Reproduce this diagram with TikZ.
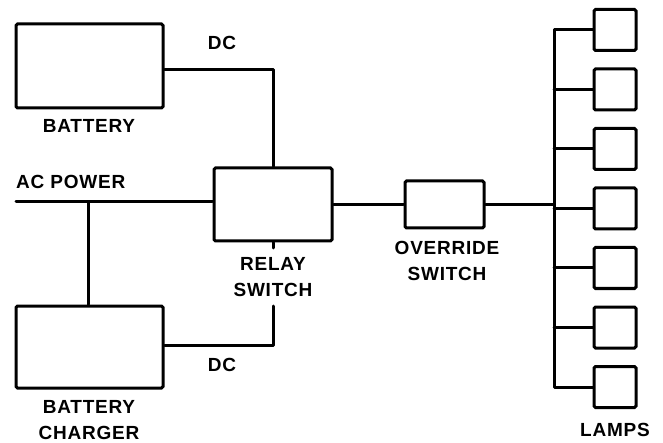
\documentclass[tikz,border=0pt]{standalone}
\usepackage{fontspec}
\setmainfont{Liberation Sans}[LetterSpace=4]
\begin{document}
\begin{tikzpicture}[x=1pt,y=-1pt,
  wire/.style={line width=3pt,line cap=round,line join=round},
  blk/.style={draw,line width=3pt,rounded corners=1.5pt,inner sep=0pt},
  lamp/.style={blk,minimum width=42pt,minimum height=41pt},
  lbl/.style={font=\bfseries\fontsize{19}{26}\selectfont,align=center,inner sep=0pt}]
\useasboundingbox (0,0) rectangle (663,443);
% blocks
\node[blk,minimum width=147pt,minimum height=84pt] (battery) at (89.5,66) {};
\node[blk,minimum width=147pt,minimum height=82pt] (charger) at (89.5,347) {};
\node[blk,minimum width=118pt,minimum height=73pt] (relay) at (273,204.5) {};
\node[blk,minimum width=79pt,minimum height=47pt] (override) at (444.5,204.5) {};
\foreach \i [evaluate=\i as \yy using 30+59.5*(\i-1)] in {1,...,7}
  \node[lamp] (lamp\i) at (615,\yy) {};
% labels
\node[lbl] (dctop) at (222,43) {DC};
\node[lbl] (batlbl) at (89,126) {BATTERY};
\node[lbl,anchor=west] (aclbl) at (16,182) {AC POWER};
\node[lbl] (relaylbl) at (273,277) {RELAY\\SWITCH};
\node[lbl] (dcbot) at (222,365) {DC};
\node[lbl] (chglbl) at (89,420) {BATTERY\\CHARGER};
\node[lbl] (ovlbl) at (447,261) {OVERRIDE\\SWITCH};
\node[lbl] (lamplbl) at (615,430) {LAMPS};
% coordinates
\coordinate (ac) at (16,202);
\coordinate (acj) at (88.5,202);
\coordinate (rs) at (273,248);
\coordinate (rl) at (273,306);
\coordinate (bus) at (554,0);
% wires
\draw[wire] ([yshift=-4pt]battery.east) -| (relay.north);
\draw[wire] (ac) -- (ac -| relay.west);
\draw[wire] (acj) -- (acj |- charger.north);
\draw[wire] (relay.south) -- (rs);
\draw[wire] ([yshift=2pt]charger.east) -| (rl);
\draw[wire] (relay.east) -- (override.west);
\draw[wire] (override.east) -- (override.east -| bus);
\draw[wire] (lamp1.west) -- (lamp1.west -| bus) -- (lamp7.west -| bus) -- (lamp7.west);
\foreach \i in {2,...,6}
  \draw[wire] (lamp\i.west) -- (lamp\i.west -| bus);
\end{tikzpicture}
\end{document}
